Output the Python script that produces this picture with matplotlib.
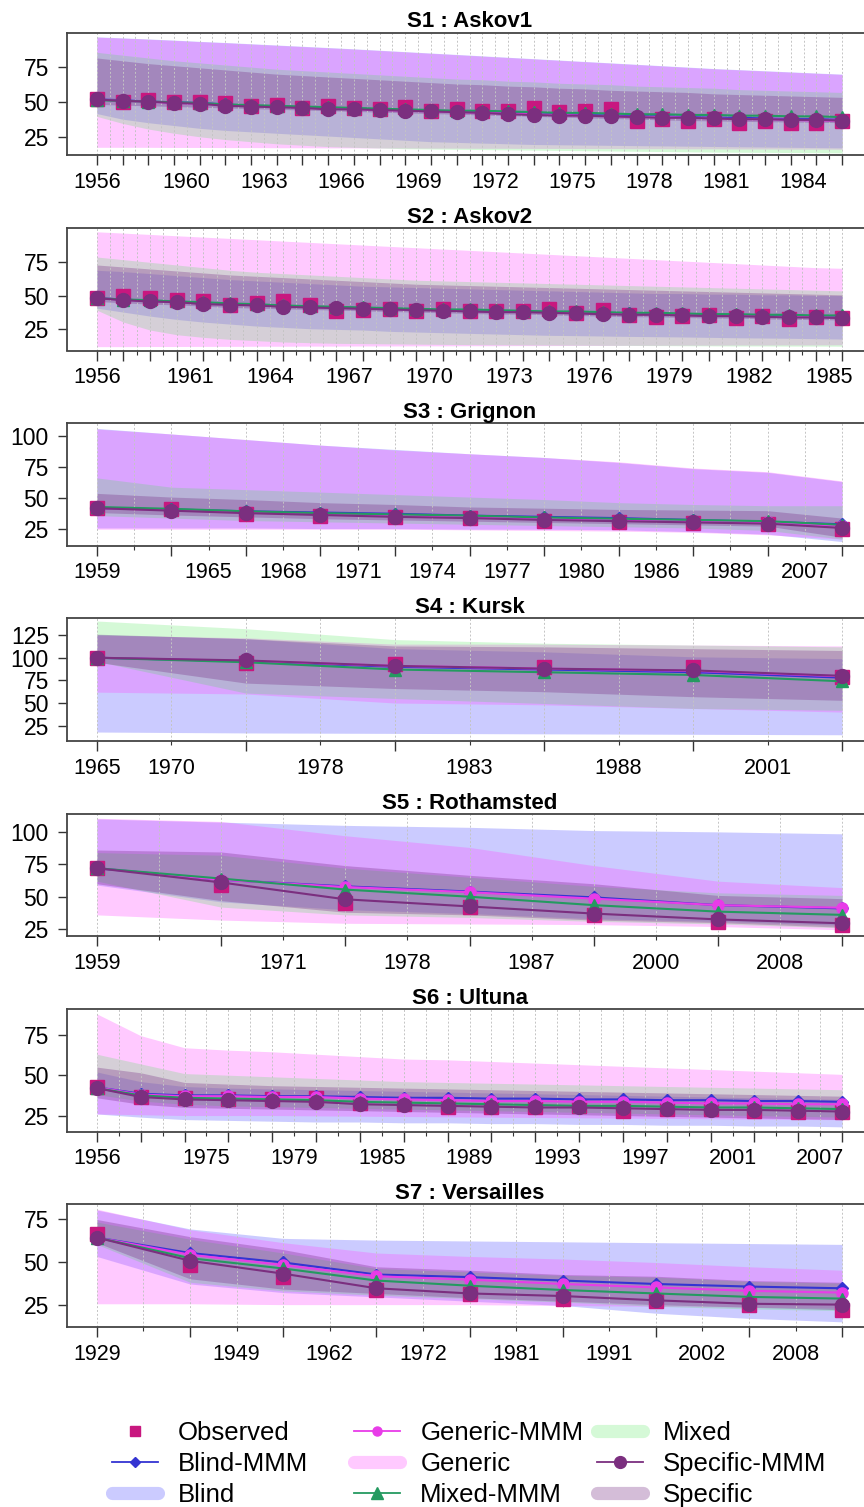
"""Seven site panels: observed values, multi-model means and model ranges."""

import matplotlib
import matplotlib.lines
import matplotlib.pyplot as plt
import numpy as np

matplotlib.use('Agg')
plt.rcParams['font.family'] = ['Liberation Sans', 'DejaVu Sans']

# ---------------------------------------------------------------- S1 Askov1
S1_LABELS = ['1956', '1960', '1963', '1966', '1969', '1972', '1975', '1978', '1981', '1984']
S1_LABEL_AT = [0, 3.5, 6.5, 9.5, 12.5, 15.5, 18.5, 21.5, 24.5, 27.5]
S1_OBS = [52.5, 50.5, 51.5, 50.0, 50.0, 49.5, 47.5, 48.0, 46.0, 47.5, 46.0, 45.0, 46.5, 44.0, 45.0,
          44.0, 44.0, 46.0, 43.0, 44.0, 45.0, 37.0, 38.0, 37.0, 38.0, 35.5, 37.0, 35.0, 35.5, 36.5]
S1_BLIND = [52.0, 51.5, 50.5, 50.0, 49.5, 48.5, 47.5, 47.0, 46.5, 46.0, 45.5, 45.0, 44.5, 44.0, 43.5,
            43.0, 42.5, 42.0, 41.5, 41.0, 40.5, 40.0, 40.0, 39.5, 39.0, 39.0, 38.5, 38.0, 38.0, 37.5]
S1_GENERIC = [52.0, 51.0, 50.5, 49.5, 49.0, 48.0, 47.5, 47.0, 46.0, 45.5, 45.0, 44.5, 44.0, 43.5, 43.0,
              42.5, 42.0, 41.5, 41.0, 40.5, 40.0, 39.5, 39.5, 39.0, 38.5, 38.0, 38.0, 37.5, 37.0, 37.0]
S1_MIXED = [51.5, 51.0, 50.5, 50.0, 49.5, 48.5, 48.0, 47.5, 47.0, 46.5, 46.0, 45.5, 45.0, 44.5, 44.0,
            44.0, 43.5, 43.0, 42.5, 42.5, 42.0, 41.5, 41.5, 41.0, 41.0, 40.5, 40.5, 40.0, 40.0, 39.5]
S1_SPECIFIC = [52.0, 51.0, 50.5, 49.5, 49.0, 47.5, 47.0, 46.5, 46.0, 45.0, 45.0, 44.5, 44.0, 43.5, 43.0,
               42.5, 41.5, 41.0, 40.5, 40.5, 40.0, 39.5, 39.0, 39.0, 38.5, 38.0, 38.0, 37.5, 37.5, 37.0]
S1_BLIND_HI = [96.5, 95.8, 95.0, 94.2, 93.3, 92.5, 91.6, 90.7, 89.8, 88.9, 88.0, 87.0, 86.0, 85.0, 84.0,
               83.0, 82.0, 81.0, 80.0, 79.0, 78.0, 77.0, 76.0, 75.0, 74.0, 73.2, 72.4, 71.6, 70.8, 70.0]
S1_BLIND_LO = [42.0, 38.0, 35.5, 33.5, 31.5, 30.0, 29.0, 28.0, 27.0, 26.0, 25.0, 24.0, 23.0, 22.0, 21.5,
               21.0, 20.5, 20.0, 19.8, 19.6, 19.4, 19.2, 19.0, 18.8, 18.6, 18.4, 18.2, 18.0, 17.8, 17.6]
S1_GENERIC_HI = [96.3, 95.6, 94.8, 94.0, 93.1, 92.3, 91.4, 90.5, 89.6, 88.7, 87.8, 86.8, 85.8, 84.8, 83.8,
                 82.8, 81.8, 80.8, 79.8, 78.8, 77.8, 76.8, 75.8, 74.8, 73.8, 73.0, 72.2, 71.4, 70.6, 69.8]
S1_GENERIC_LO = [18.0, 18.0, 18.0, 17.9, 17.9, 17.8, 17.8, 17.7, 17.7, 17.6, 17.6, 17.5, 17.5, 17.4, 17.4,
                 17.3, 17.3, 17.2, 17.2, 17.1, 17.1, 17.0, 17.0, 16.9, 16.9, 16.8, 16.8, 16.7, 16.7, 16.6]
S1_MIXED_HI = [85.5, 83.5, 81.5, 79.5, 78.0, 76.5, 75.0, 73.5, 72.5, 71.5, 70.5, 69.5, 68.5, 67.5, 66.5,
               66.0, 65.0, 64.5, 63.5, 63.0, 62.5, 61.5, 61.0, 60.5, 60.0, 59.0, 58.5, 58.0, 57.5, 57.0]
S1_MIXED_LO = [40.0, 35.0, 31.0, 28.0, 25.5, 23.5, 22.0, 20.5, 19.5, 18.5, 18.0, 17.5, 17.0, 16.8, 16.6,
               16.4, 16.2, 16.0, 15.8, 15.6, 15.4, 15.2, 15.0, 14.8, 14.6, 14.5, 14.4, 14.3, 14.2, 14.0]
S1_SPECIFIC_HI = [81.5, 79.5, 77.5, 76.0, 74.5, 73.0, 71.5, 70.0, 69.0, 68.0, 67.0, 66.0, 65.0, 64.0, 63.0,
                  62.5, 61.5, 61.0, 60.0, 59.5, 58.5, 58.0, 57.5, 57.0, 56.0, 55.5, 55.0, 54.5, 54.0, 53.5]
S1_SPECIFIC_LO = [48.5, 48.0, 47.5, 47.0, 46.5, 46.0, 45.5, 45.0, 44.5, 44.0, 43.5, 43.0, 42.5, 42.0, 41.5,
                  41.0, 40.5, 40.0, 39.5, 39.0, 38.5, 38.0, 37.5, 37.0, 36.8, 36.5, 36.2, 36.0, 35.8, 35.5]

# ---------------------------------------------------------------- S2 Askov2
S2_LABELS = ['1956', '1961', '1964', '1967', '1970', '1973', '1976', '1979', '1982', '1985']
S2_LABEL_AT = [0, 3.5, 6.5, 9.5, 12.5, 15.5, 18.5, 21.5, 24.5, 27.5]
S2_OBS = [48.0, 49.5, 48.0, 47.0, 46.0, 42.5, 44.0, 45.5, 43.0, 38.5, 39.0, 40.0, 38.5, 40.0, 38.5,
          38.0, 38.5, 40.0, 37.0, 39.0, 35.0, 33.5, 34.5, 35.5, 33.0, 34.5, 32.5, 33.5, 33.0]
S2_BLIND = [48.0, 47.0, 46.0, 45.5, 44.5, 43.5, 43.0, 42.0, 41.5, 41.0, 40.5, 40.0, 39.5, 39.0, 38.5,
            38.0, 38.0, 37.5, 37.0, 36.5, 36.5, 36.0, 35.5, 35.5, 35.0, 35.0, 34.5, 34.5, 34.0]
S2_GENERIC = [48.0, 46.8, 45.8, 45.3, 43.8, 43.3, 42.8, 41.8, 41.3, 40.8, 40.3, 39.8, 39.3, 38.8, 38.3,
              37.8, 37.8, 37.3, 36.8, 36.3, 35.8, 35.8, 35.3, 34.8, 34.8, 34.3, 33.8, 33.8, 33.3]
S2_MIXED = [48.0, 47.0, 46.5, 45.5, 45.0, 44.0, 43.5, 42.5, 42.0, 41.5, 41.0, 40.5, 40.0, 39.5, 39.5,
            39.0, 38.5, 38.0, 38.0, 37.5, 37.0, 37.0, 36.5, 36.0, 36.0, 35.5, 35.5, 35.0, 35.0]
S2_SPECIFIC = [48.0, 46.5, 45.5, 45.0, 43.5, 43.0, 42.5, 41.5, 41.0, 40.5, 40.0, 39.5, 39.0, 38.5, 38.0,
               37.5, 37.5, 37.0, 36.5, 36.0, 35.5, 35.5, 35.0, 34.5, 34.5, 34.0, 33.5, 33.5, 33.0]
S2_BLIND_HI = [69.0, 68.0, 66.5, 65.0, 63.5, 62.0, 61.0, 60.0, 59.0, 58.0, 57.0, 56.5, 56.0, 55.5, 55.0,
               54.5, 54.0, 53.5, 53.0, 52.5, 52.0, 51.5, 51.5, 51.0, 51.0, 50.5, 50.5, 50.0, 50.0]
S2_BLIND_LO = [40.5, 37.5, 34.5, 32.0, 30.0, 28.5, 27.0, 26.0, 25.0, 24.5, 24.0, 23.0, 22.5, 22.0, 21.5,
               21.0, 20.5, 20.0, 19.8, 19.5, 19.2, 19.0, 18.8, 18.5, 18.2, 18.0, 17.8, 17.5, 17.2]
S2_GENERIC_HI = [98.0, 97.0, 96.0, 95.0, 94.0, 93.0, 92.0, 91.0, 90.0, 89.0, 88.0, 87.0, 86.0, 85.0, 84.0,
                 83.0, 82.0, 81.0, 80.0, 79.0, 78.0, 77.0, 76.0, 75.0, 74.0, 73.0, 72.0, 71.0, 70.5]
S2_GENERIC_LO = [11.5, 11.5, 11.6, 11.6, 11.7, 11.7, 11.8, 11.8, 11.9, 11.9, 12.0, 12.0, 12.1, 12.1, 12.2,
                 12.2, 12.3, 12.3, 12.4, 12.4, 12.5, 12.5, 12.6, 12.6, 12.7, 12.7, 12.8, 12.8, 12.9]
S2_MIXED_HI = [79.0, 77.0, 75.0, 73.0, 71.0, 69.0, 67.5, 66.5, 65.5, 64.5, 63.5, 62.5, 61.5, 61.0, 60.5,
               60.0, 59.5, 59.0, 58.5, 58.0, 57.5, 57.0, 56.5, 56.0, 55.5, 55.0, 54.5, 54.0, 53.5]
S2_MIXED_LO = [39.0, 30.0, 24.0, 20.5, 18.5, 17.0, 16.0, 15.0, 14.5, 14.0, 13.8, 13.6, 13.4, 13.2, 13.0,
               12.9, 12.8, 12.7, 12.6, 12.5, 12.4, 12.3, 12.2, 12.1, 12.0, 12.0, 11.9, 11.9, 11.8]
S2_SPECIFIC_HI = [73.0, 71.5, 70.0, 68.5, 67.0, 65.5, 64.5, 63.5, 62.5, 61.5, 60.5, 59.5, 58.5, 58.0, 57.5,
                  57.0, 56.5, 56.0, 55.5, 55.0, 54.5, 54.0, 53.5, 53.0, 52.5, 52.0, 51.5, 51.0, 50.5]
S2_SPECIFIC_LO = [45.5, 44.5, 43.5, 43.0, 42.0, 41.0, 40.5, 40.0, 39.5, 39.0, 38.5, 38.0, 37.5, 37.0, 36.5,
                  36.0, 36.0, 35.5, 35.0, 34.5, 34.0, 34.0, 33.5, 33.0, 33.0, 32.5, 32.0, 32.0, 31.5]

# ---------------------------------------------------------------- S3 Grignon
S3_LABELS = ['1959', '1965', '1968', '1971', '1974', '1977', '1980', '1986', '1989', '2007']
S3_LABEL_AT = [0, 1.5, 2.5, 3.5, 4.5, 5.5, 6.5, 7.5, 8.5, 9.5]
S3_OBS = [42.5, 41.0, 37.0, 36.0, 34.5, 34.0, 31.5, 31.0, 30.0, 29.0, 25.5]
S3_BLIND = [42.0, 41.0, 39.5, 38.5, 37.5, 36.0, 35.0, 34.0, 32.5, 31.0, 29.0]
S3_GENERIC = [42.0, 40.5, 38.5, 37.0, 36.0, 35.0, 33.5, 32.5, 31.5, 30.5, 27.5]
S3_MIXED = [43.0, 41.5, 39.5, 38.0, 37.0, 36.0, 34.5, 33.5, 32.5, 31.5, 28.5]
S3_SPECIFIC = [42.0, 40.0, 38.0, 36.5, 35.0, 34.0, 32.5, 31.5, 30.5, 29.5, 26.0]
S3_BLIND_HI = [106.5, 102.0, 97.5, 93.0, 89.5, 86.0, 83.0, 79.0, 74.0, 71.0, 63.5]
S3_BLIND_LO = [26.0, 26.0, 26.0, 25.5, 25.5, 25.0, 25.0, 24.5, 23.0, 21.0, 15.0]
S3_GENERIC_HI = [106.0, 102.0, 97.5, 93.0, 89.0, 86.0, 83.0, 79.5, 74.5, 71.5, 64.0]
S3_GENERIC_LO = [25.0, 25.0, 25.0, 25.0, 25.0, 24.5, 24.0, 23.5, 22.5, 20.5, 17.0]
S3_MIXED_HI = [66.5, 59.0, 57.0, 55.0, 53.0, 51.0, 49.0, 46.5, 45.0, 44.0, 44.0]
S3_MIXED_LO = [36.0, 34.0, 32.0, 31.0, 30.0, 29.0, 28.0, 27.0, 26.0, 24.0, 17.0]
S3_SPECIFIC_HI = [54.0, 51.0, 49.0, 46.5, 45.0, 43.0, 42.0, 41.0, 40.5, 40.0, 34.0]
S3_SPECIFIC_LO = [38.5, 36.5, 35.0, 33.5, 32.5, 31.5, 30.5, 29.5, 28.5, 27.5, 18.5]

# ---------------------------------------------------------------- S4 Kursk
S4_LABELS = ['1965', '1970', '1978', '1983', '1988', '2001']
S4_LABEL_AT = [0, 0.5, 1.5, 2.5, 3.5, 4.5]
S4_OBS = [100.0, 94.0, 93.0, 90.0, 90.0, 79.0]
S4_BLIND = [100.0, 96.0, 90.0, 87.0, 84.0, 78.0]
S4_GENERIC = [100.0, 96.5, 91.0, 88.0, 85.5, 79.5]
S4_MIXED = [100.0, 95.0, 87.0, 84.0, 81.0, 74.0]
S4_SPECIFIC = [100.0, 97.0, 91.0, 88.0, 86.0, 80.0]
S4_BLIND_HI = [125.5, 121.0, 110.0, 106.5, 101.0, 99.0]
S4_BLIND_LO = [18.0, 17.0, 16.5, 16.0, 15.5, 15.0]
S4_GENERIC_HI = [125.0, 122.0, 115.0, 115.0, 114.0, 113.0]
S4_GENERIC_LO = [62.0, 60.0, 50.0, 48.0, 44.0, 40.0]
S4_MIXED_HI = [140.5, 132.0, 120.0, 116.0, 114.0, 112.0]
S4_MIXED_LO = [96.0, 61.0, 55.0, 49.5, 44.0, 42.0]
S4_SPECIFIC_HI = [126.0, 121.0, 113.0, 112.0, 110.0, 108.0]
S4_SPECIFIC_LO = [95.0, 72.0, 66.0, 62.5, 57.0, 53.0]

# ---------------------------------------------------------------- S5 Rothamsted
S5_LABELS = ['1959', '1971', '1978', '1987', '2000', '2008']
S5_LABEL_AT = [0, 1.5, 2.5, 3.5, 4.5, 5.5]
S5_OBS = [72.0, 59.0, 45.5, 42.0, 36.0, 30.5, 28.0]
S5_BLIND = [72.0, 63.0, 58.0, 54.0, 49.5, 43.5, 41.0]
S5_GENERIC = [72.0, 63.0, 57.5, 53.5, 48.5, 43.5, 41.5]
S5_MIXED = [72.0, 64.0, 55.5, 50.0, 43.5, 38.5, 36.0]
S5_SPECIFIC = [72.0, 61.0, 48.0, 42.5, 37.0, 32.5, 29.5]
S5_BLIND_HI = [110.0, 107.5, 105.0, 103.5, 101.0, 100.0, 98.5]
S5_BLIND_LO = [59.0, 46.0, 40.0, 37.0, 33.0, 31.0, 28.0]
S5_GENERIC_HI = [110.5, 108.0, 97.0, 88.0, 74.0, 62.0, 57.0]
S5_GENERIC_LO = [36.0, 32.0, 29.5, 29.0, 28.5, 27.0, 24.5]
S5_MIXED_HI = [84.0, 82.0, 72.0, 65.0, 58.0, 53.0, 51.0]
S5_MIXED_LO = [62.0, 42.0, 36.0, 34.0, 31.0, 29.0, 26.0]
S5_SPECIFIC_HI = [86.0, 84.5, 74.0, 66.5, 60.0, 51.0, 48.5]
S5_SPECIFIC_LO = [60.0, 47.0, 38.0, 36.0, 32.0, 30.0, 26.5]

# ---------------------------------------------------------------- S6 Ultuna
S6_LABELS = ['1956', '1975', '1979', '1985', '1989', '1993', '1997', '2001', '2007']
S6_LABEL_AT = [0, 2.5, 4.5, 6.5, 8.5, 10.5, 12.5, 14.5, 16.5]
S6_OBS = [42.5, 36.5, 36.0, 35.5, 35.5, 36.0, 33.0, 32.0, 30.0, 30.0, 30.5, 31.0, 28.0, 29.0, 29.0,
          28.0, 27.5, 27.0]
S6_BLIND = [42.5, 38.5, 37.5, 37.5, 37.0, 37.0, 36.5, 36.0, 36.0, 35.5, 35.5, 35.0, 35.0, 34.5, 34.5,
            34.0, 34.0, 33.5]
S6_GENERIC = [42.5, 38.0, 37.0, 37.0, 36.5, 36.5, 35.5, 35.0, 34.5, 34.0, 34.0, 33.5, 33.5, 33.0, 32.5,
              32.5, 32.0, 32.0]
S6_MIXED = [42.0, 37.5, 36.0, 35.5, 35.0, 34.5, 33.5, 33.0, 32.5, 32.0, 31.5, 31.0, 31.0, 30.5, 30.0,
            30.0, 29.5, 29.0]
S6_SPECIFIC = [42.0, 36.5, 35.0, 34.5, 34.0, 33.5, 32.0, 31.5, 31.0, 30.5, 30.0, 30.0, 29.5, 29.0, 28.5,
               28.5, 28.0, 27.5]
S6_BLIND_HI = [52.0, 46.0, 43.0, 42.0, 41.5, 41.0, 40.5, 40.0, 39.5, 39.0, 38.5, 38.0, 37.5, 37.0, 36.5,
               36.0, 35.5, 35.0]
S6_BLIND_LO = [26.0, 24.0, 22.5, 22.0, 21.5, 21.0, 21.0, 20.5, 20.5, 20.0, 20.0, 19.5, 19.5, 19.0, 19.0,
               18.5, 18.5, 18.0]
S6_GENERIC_HI = [88.0, 74.5, 67.0, 65.5, 64.5, 63.0, 61.5, 60.0, 59.5, 58.5, 57.5, 56.5, 55.5, 54.5, 53.5,
                 52.5, 51.5, 50.5]
S6_GENERIC_LO = [26.0, 25.5, 25.0, 25.0, 25.0, 24.8, 24.6, 24.4, 24.2, 24.0, 23.8, 23.6, 23.4, 23.2, 23.0,
                 22.8, 22.6, 22.4]
S6_MIXED_HI = [63.0, 57.0, 51.0, 50.0, 49.0, 48.0, 47.0, 46.0, 45.5, 45.0, 44.5, 44.0, 43.5, 43.0, 42.5,
               42.0, 41.5, 41.0]
S6_MIXED_LO = [38.0, 34.0, 32.0, 31.0, 30.5, 30.0, 29.5, 29.0, 28.5, 28.0, 27.5, 27.0, 26.5, 26.0, 25.5,
               25.0, 24.5, 24.0]
S6_SPECIFIC_HI = [55.0, 51.5, 45.5, 44.5, 43.5, 43.0, 42.5, 42.0, 41.5, 41.0, 40.5, 40.0, 39.5, 39.0, 38.5,
                  38.0, 37.5, 37.0]
S6_SPECIFIC_LO = [36.0, 32.0, 30.0, 29.5, 29.0, 28.5, 28.0, 27.5, 27.0, 26.5, 26.0, 25.5, 25.0, 24.5, 24.0,
                  23.5, 23.0, 22.5]

# ---------------------------------------------------------------- S7 Versailles
S7_LABELS = ['1929', '1949', '1962', '1972', '1981', '1991', '2002', '2008']
S7_LABEL_AT = [0, 1.5, 2.5, 3.5, 4.5, 5.5, 6.5, 7.5]
S7_OBS = [66.0, 48.0, 41.0, 33.5, 31.0, 28.5, 27.0, 24.5, 22.0]
S7_BLIND = [64.0, 55.0, 49.5, 42.5, 41.0, 39.0, 37.0, 35.5, 34.5]
S7_GENERIC = [64.0, 54.0, 48.0, 41.5, 39.5, 37.0, 35.0, 33.0, 32.0]
S7_MIXED = [64.0, 52.0, 46.0, 39.0, 36.0, 33.5, 31.5, 29.5, 28.5]
S7_SPECIFIC = [64.0, 50.5, 43.0, 34.5, 31.5, 30.0, 27.5, 25.5, 25.0]
S7_BLIND_HI = [80.0, 69.0, 63.5, 62.5, 62.0, 61.5, 61.0, 60.5, 60.0]
S7_BLIND_LO = [53.0, 37.0, 32.0, 29.5, 27.0, 24.5, 20.0, 17.0, 15.0]
S7_GENERIC_HI = [80.5, 68.5, 61.0, 55.0, 53.0, 51.5, 49.5, 47.0, 45.0]
S7_GENERIC_LO = [25.5, 25.5, 25.0, 25.0, 25.0, 24.5, 24.0, 23.5, 23.0]
S7_MIXED_HI = [73.0, 63.0, 55.0, 46.0, 44.0, 42.0, 41.0, 38.5, 37.5]
S7_MIXED_LO = [60.0, 38.0, 33.0, 30.5, 28.5, 26.5, 24.0, 22.5, 21.5]
S7_SPECIFIC_HI = [74.5, 64.5, 57.0, 47.0, 45.0, 42.5, 41.5, 39.0, 38.0]
S7_SPECIFIC_LO = [61.0, 40.0, 34.0, 31.5, 29.0, 27.0, 25.0, 23.5, 22.0]


def _site(title, ylim, yticks, labels, label_at, obs, mmm, bands):
    return dict(title=title, ylim=ylim, yticks=yticks, labels=labels,
                label_at=label_at, obs=obs, mmm=mmm, bands=bands)


SITES = [
    _site('S1 : Askov1', (12.4, 99.6), [25, 50, 75], S1_LABELS, S1_LABEL_AT, S1_OBS,
          [S1_BLIND, S1_GENERIC, S1_MIXED, S1_SPECIFIC],
          [(S1_BLIND_LO, S1_BLIND_HI), (S1_GENERIC_LO, S1_GENERIC_HI),
           (S1_MIXED_LO, S1_MIXED_HI), (S1_SPECIFIC_LO, S1_SPECIFIC_HI)]),
    _site('S2 : Askov2', (8.6, 101), [25, 50, 75], S2_LABELS, S2_LABEL_AT, S2_OBS,
          [S2_BLIND, S2_GENERIC, S2_MIXED, S2_SPECIFIC],
          [(S2_BLIND_LO, S2_BLIND_HI), (S2_GENERIC_LO, S2_GENERIC_HI),
           (S2_MIXED_LO, S2_MIXED_HI), (S2_SPECIFIC_LO, S2_SPECIFIC_HI)]),
    _site('S3 : Grignon', (11.6, 110.8), [25, 50, 75, 100], S3_LABELS, S3_LABEL_AT, S3_OBS,
          [S3_BLIND, S3_GENERIC, S3_MIXED, S3_SPECIFIC],
          [(S3_BLIND_LO, S3_BLIND_HI), (S3_GENERIC_LO, S3_GENERIC_HI),
           (S3_MIXED_LO, S3_MIXED_HI), (S3_SPECIFIC_LO, S3_SPECIFIC_HI)]),
    _site('S4 : Kursk', (8, 143.4), [25, 50, 75, 100, 125], S4_LABELS, S4_LABEL_AT, S4_OBS,
          [S4_BLIND, S4_GENERIC, S4_MIXED, S4_SPECIFIC],
          [(S4_BLIND_LO, S4_BLIND_HI), (S4_GENERIC_LO, S4_GENERIC_HI),
           (S4_MIXED_LO, S4_MIXED_HI), (S4_SPECIFIC_LO, S4_SPECIFIC_HI)]),
    _site('S5 : Rothamsted', (19.4, 114), [25, 50, 75, 100], S5_LABELS, S5_LABEL_AT, S5_OBS,
          [S5_BLIND, S5_GENERIC, S5_MIXED, S5_SPECIFIC],
          [(S5_BLIND_LO, S5_BLIND_HI), (S5_GENERIC_LO, S5_GENERIC_HI),
           (S5_MIXED_LO, S5_MIXED_HI), (S5_SPECIFIC_LO, S5_SPECIFIC_HI)]),
    _site('S6 : Ultuna', (15, 91), [25, 50, 75], S6_LABELS, S6_LABEL_AT, S6_OBS,
          [S6_BLIND, S6_GENERIC, S6_MIXED, S6_SPECIFIC],
          [(S6_BLIND_LO, S6_BLIND_HI), (S6_GENERIC_LO, S6_GENERIC_HI),
           (S6_MIXED_LO, S6_MIXED_HI), (S6_SPECIFIC_LO, S6_SPECIFIC_HI)]),
    _site('S7 : Versailles', (12, 83.3), [25, 50, 75], S7_LABELS, S7_LABEL_AT, S7_OBS,
          [S7_BLIND, S7_GENERIC, S7_MIXED, S7_SPECIFIC],
          [(S7_BLIND_LO, S7_BLIND_HI), (S7_GENERIC_LO, S7_GENERIC_HI),
           (S7_MIXED_LO, S7_MIXED_HI), (S7_SPECIFIC_LO, S7_SPECIFIC_HI)]),
]

# Range bands: (label, rgb, alpha); drawn in this order.
BAND_STYLES = [
    ('Blind', (0.2, 0.2, 1.0), 0.25),
    ('Generic', (1.0, 0.3, 1.0), 0.30),
    ('Mixed', (0.25, 0.9, 0.3), 0.22),
    ('Specific', (0.45, 0.15, 0.5), 0.30),
]
# Model means: (label, color, marker, markersize in plot, markersize in legend).
MMM_STYLES = [
    ('Blind-MMM', '#3434D2', 'D', 6.5, 5),
    ('Generic-MMM', '#E83CE8', 'o', 8, 6.5),
    ('Mixed-MMM', '#249A60', '^', 9, 8),
    ('Specific-MMM', '#7B2F7F', 'o', 10, 8.5),
]
OBS_COLOR = '#C8177F'

W, H = 864, 1507


def _draw_site(axes, site):
    n = len(site['obs'])
    x = np.arange(n)
    for (lo, hi), (_, rgb, alpha) in zip(site['bands'], BAND_STYLES):
        axes.fill_between(x, lo, hi, color=rgb, alpha=alpha, lw=0, zorder=1)
    axes.plot(x, site['obs'], ls='none', marker='s', ms=10.5, color=OBS_COLOR, zorder=3)
    for values, (_, color, marker, ms, _) in zip(site['mmm'], MMM_STYLES):
        axes.plot(x, values, color=color, lw=1.5, marker=marker, ms=ms,
                  mec=color, zorder=4)

    axes.set_xlim(-0.04 * (n - 1), 1.04 * (n - 1))
    axes.set_ylim(*site['ylim'])
    axes.set_yticks(site['yticks'])
    axes.set_xticks(x)
    axes.set_xticks(x[:-1] + 0.5, minor=True)
    axes.xaxis.set_ticklabels([])
    axes.tick_params(axis='x', which='major', length=7, width=1, color='#333333')
    axes.tick_params(axis='x', which='minor', length=3, width=0.8, color='#333333')
    axes.tick_params(axis='y', length=6.5, width=1, pad=6.5, labelsize=16.5, color='#333333')
    axes.grid(axis='x', which='both', color='#C4C4C4', lw=0.7, ls=(0, (2, 2)))
    for side in ('left', 'bottom', 'top'):
        axes.spines[side].set_color('#444444')
        axes.spines[side].set_linewidth(1.3)
    axes.spines['right'].set_visible(False)
    axes.set_title(site['title'], fontsize=16, fontweight='bold', pad=3)

    labels = axes.secondary_xaxis('bottom')
    labels.set_xticks(site['label_at'], site['labels'])
    labels.tick_params(length=0, pad=12, labelsize=15.5)
    labels.spines['bottom'].set_visible(False)


def _add_legend(figure, handles, x_px, top_px):
    figure.legend(
        handles=handles, loc='upper left',
        bbox_to_anchor=(x_px / W, 1 - top_px / H), frameon=False,
        borderpad=0, borderaxespad=0, fontsize=18.5, handlelength=1.8,
        handletextpad=0.78, labelspacing=0.27, numpoints=1)


def main():
    figure = plt.figure(figsize=(W / 100, H / 100), dpi=100)
    for k, site in enumerate(SITES):
        top = 32.5 + k * 195.3
        height = 122.7
        axes = figure.add_axes([67 / W, 1 - (top + height) / H, 805 / W, height / H])
        _draw_site(axes, site)

    def band_handle(style):
        label, rgb, alpha = style
        return matplotlib.lines.Line2D(
            [], [], color=rgb, alpha=alpha, lw=9.5, solid_capstyle='round', label=label)

    def mmm_handle(style):
        label, color, marker, _, ms = style
        return matplotlib.lines.Line2D(
            [], [], color=color, lw=1.3, marker=marker, ms=ms, label=label)

    observed = matplotlib.lines.Line2D(
        [], [], ls='none', marker='s', ms=7, color=OBS_COLOR, label='Observed')
    columns = [
        [observed, mmm_handle(MMM_STYLES[0]), band_handle(BAND_STYLES[0])],
        [mmm_handle(MMM_STYLES[1]), band_handle(BAND_STYLES[1]), mmm_handle(MMM_STYLES[2])],
        [band_handle(BAND_STYLES[2]), mmm_handle(MMM_STYLES[3]), band_handle(BAND_STYLES[3])],
    ]
    for handles, x_px in zip(columns, (111.5, 354, 597)):
        _add_legend(figure, handles, x_px, 1421)

    figure.savefig('out.png', dpi=100)
    plt.close(figure)


main()
